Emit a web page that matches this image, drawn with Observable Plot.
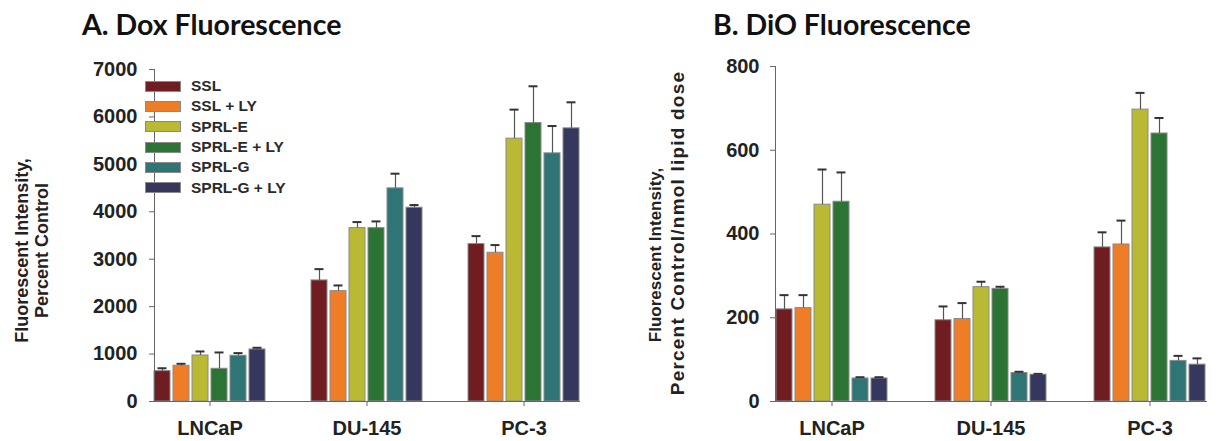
<!DOCTYPE html>
<html>
<head>
<meta charset="utf-8">
<script src="https://cdn.jsdelivr.net/npm/d3@7"></script>
<script src="https://cdn.jsdelivr.net/npm/@observablehq/plot@0.6"></script>
<style>
  html, body { margin: 0; padding: 0; background: #fff; }
  body { width: 1220px; height: 441px; overflow: hidden; position: relative; font-family: "Liberation Sans", Arial, sans-serif; }
  .panel { position: absolute; top: 0; height: 441px; overflow: hidden; }
  .panel svg { max-width: none !important; }
  .title { position: absolute; top: 10px; font-family: Lato, "Open Sans", sans-serif; font-weight: 700; font-size: 28.5px; line-height: 1; color: #111; white-space: nowrap; }
  .head { height: 50px; }
  .legend { position: absolute; left: 145px; top: 76px; font-family: "Liberation Sans", Arial, sans-serif; font-weight: bold; font-size: 15.5px; color: #2a2a2a; }
  .legend .row { display: flex; align-items: center; height: 20.3px; }
  .legend .sw { width: 34px; height: 9px; border: 1px solid #8a8a8a; margin-right: 10px; }
</style>
</head>
<body>
<div class="panel" id="left" style="left:0;width:610px;"><div class="head"></div><div class="title" style="left:82px;">A. Dox Fluorescence</div></div>
<div class="panel" id="right" style="left:610px;width:610px;"><div class="head"></div><div class="title" style="left:103px;">B. DiO Fluorescence</div></div>
<script>
const categories = ["LNCaP", "DU-145", "PC-3"];
const series = ["SSL", "SSL + LY", "SPRL-E", "SPRL-E + LY", "SPRL-G", "SPRL-G + LY"];
const colors = ["#6f1d20", "#ef7d27", "#b9b933", "#2b7434", "#2f7575", "#36375f"];

// Panel A: Dox fluorescence (percent control), rows = categories, columns = series
const doxValues = [
  [640, 753, 970, 690, 964, 1097],
  [2553, 2327, 3656, 3656, 4494, 4086],
  [3319, 3136, 5542, 5871, 5232, 5759]
];
const doxErrors = [
  [61, 42, 85, 344, 56, 36],
  [238, 120, 127, 141, 309, 56],
  [168, 162, 612, 775, 576, 549]
];
const doxTicks = [0, 1000, 2000, 3000, 4000, 5000, 6000, 7000];
const doxLabelLines = ["Fluorescent Intensity,", "Percent Control"];

// Panel B: DiO fluorescence (percent control / nmol lipid dose)
const dioValues = [
  [220, 223, 470, 477, 55, 55],
  [194, 197, 273, 269, 68, 64],
  [368, 375, 697, 640, 97, 88]
];
const dioErrors = [
  [34, 31, 84, 70, 3, 3],
  [33, 38, 13, 5, 3, 2],
  [36, 57, 40, 37, 12, 15]
];
const dioTicks = [0, 200, 400, 600, 800];
const dioLabelLines = ["Fluorescent Intensity,", "Percent Control/nmol lipid dose"];

function panel({values, errors, ticks, labelLines, labelStyle, width, marginLeft, marginRight, marginTop, tickPadding}) {
  const data = categories.flatMap((c, i) => series.map((s, j) => ({cat: c, series: s, value: values[i][j], err: errors[i][j]})));
  return Plot.plot({
    width, height: 391, marginLeft, marginRight, marginTop, marginBottom: 40,
    style: {fontFamily: "'Liberation Sans', Arial, sans-serif", color: "#222", background: "white", overflow: "visible", maxWidth: "none"},
    fx: {domain: categories, paddingInner: 0.29, paddingOuter: 0.146, label: null},
    x: {domain: series, paddingInner: 0.16, paddingOuter: 0, axis: null},
    y: {domain: [0, ticks[ticks.length - 1]], axis: null},
    color: {domain: series, range: colors},
    marks: [
      Plot.barY(data, {fx: "cat", x: "series", y: "value", fill: "series", stroke: "#8a8a8a", strokeWidth: 1}),
      Plot.ruleX(data, {fx: "cat", x: "series", y1: "value", y2: d => d.value + d.err, stroke: "#555", strokeWidth: 1.2}),
      Plot.tickY(data, {fx: "cat", x: "series", y: d => d.value + d.err, stroke: "#333", strokeWidth: 2, insetLeft: 3.5, insetRight: 3.5}),
      Plot.axisY({ticks, tickSize: 5, tickPadding, fontSize: 20, fontWeight: "bold", stroke: "#666", label: null, tickFormat: d => String(d)}),
      Plot.axisFx({anchor: "bottom", tickSize: 5, tickPadding: 14, fontSize: 20, fontWeight: "bold", label: null, stroke: "#666"}),
      Plot.frame({anchor: "left", facet: "super", stroke: "#666"}),
      Plot.frame({anchor: "bottom", facet: "super", stroke: "#666"}),
      ...labelLines.map((line, i) => Plot.text([line], {frameAnchor: "left", facet: "super", textAnchor: "middle", rotate: -90, fontWeight: "bold", fill: "#222", ...labelStyle[i]}))
    ]
  });
}

const left = panel({values: doxValues, errors: doxErrors, ticks: doxTicks, labelLines: doxLabelLines,
  labelStyle: [{dx: -132, dy: 15, fontSize: 18}, {dx: -112, dy: 15, fontSize: 18}],
  width: 610, marginLeft: 130, marginRight: 6, marginTop: 19, tickPadding: 12});
document.getElementById("left").appendChild(left);

const right = panel({values: dioValues, errors: dioErrors, ticks: dioTicks, labelLines: dioLabelLines,
  labelStyle: [{dx: -120, dy: 21, fontSize: 17}, {dx: -98, dy: -1, fontSize: 19}],
  width: 620, marginLeft: 141, marginRight: 0, marginTop: 16, tickPadding: 11});
document.getElementById("right").appendChild(right);
d3.select(right).selectAll("text").filter(function () { return this.textContent === dioLabelLines[1]; }).style("letter-spacing", "1.2px");

// Legend (inside panel A)
const legend = d3.select("#left").append("div").attr("class", "legend");
const rows = legend.selectAll(".row").data(series).join("div").attr("class", "row");
rows.append("div").attr("class", "sw").style("background", (d, i) => colors[i]);
rows.append("span").text(d => d);
</script>
</body>
</html>
